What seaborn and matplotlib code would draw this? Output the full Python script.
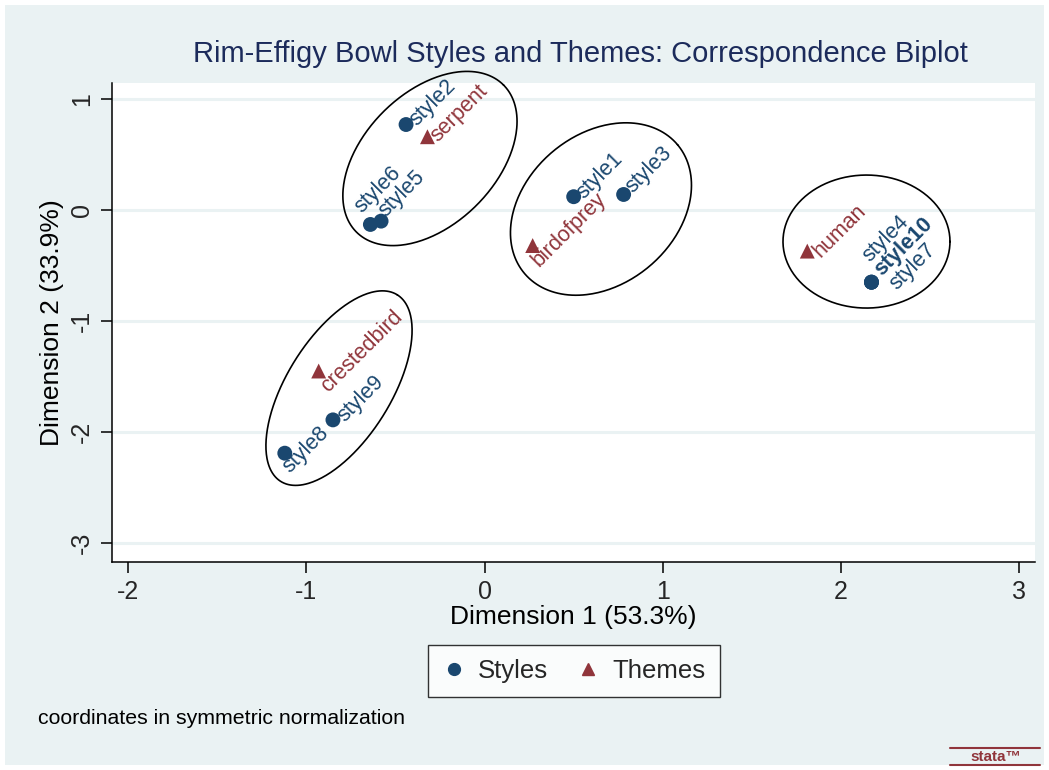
import numpy as np
import pandas as pd
import seaborn as sns
import matplotlib.pyplot as plt
from matplotlib.lines import Line2D
from matplotlib.patches import Rectangle

# correspondence coordinates
labels = ["style1", "style2", "style3", "style4", "style5", "style6", "style7",
          "style8", "style9", "style10",
          "birdofprey", "crestedbird", "human", "serpent"]
dim1 = [0.50, -0.44, 0.78, 2.17, -0.58, -0.64, 2.17, -1.12, -0.85, 2.17,
        0.27, -0.93, 1.81, -0.32]
dim2 = [0.12, 0.77, 0.14, -0.65, -0.10, -0.13, -0.65, -2.19, -1.89, -0.65,
        -0.32, -1.45, -0.37, 0.66]
kind = ["Styles"] * 10 + ["Themes"] * 4

x_ticks = [-2, -1, 0, 1, 2, 3]
y_ticks = [1, 0, -1, -2, -3]

# group ellipses: centre (data), semi-axes (px), angle (deg)
ellipses = [(-0.306, 0.464, 104, 66, 45),
            (0.653, 0.009, 100, 75, 40),
            (2.142, -0.284, 83.5, 66.5, 0),
            (-0.816, -1.604, 110, 52, 58)]

# label offsets in px (right, down) from the marker to the text start
label_off = {"style1": (10, 3), "style2": (11, 2), "style3": (9, -1),
             "style4": (-2, -20), "style5": (5, -4), "style6": (-8, -11),
             "style7": (25, 8), "style8": (5, 20), "style9": (12, 3),
             "style10": (10, -6), "birdofprey": (6, 22), "crestedbird": (9, 22),
             "human": (13, 7), "serpent": (10, 6)}

navy = "#1a476f"
maroon = "#90353b"
bg = "#eaf2f3"

df = pd.DataFrame({"label": labels, "dim1": dim1, "dim2": dim2, "kind": kind})

sns.set_theme(style="white")
plt.rcParams["font.family"] = ["Liberation Sans", "DejaVu Sans"]

W, H = 1049, 770
fig = plt.figure(figsize=(W / 100, H / 100), dpi=100)
fig.patch.set_facecolor("white")
fig.add_artist(Rectangle((5 / W, 5 / H), 1 - 10 / W, 1 - 10 / H,
                         transform=fig.transFigure, facecolor=bg,
                         edgecolor="none", zorder=0))

ax = fig.add_axes([112 / W, 1 - 562 / H, (1035 - 112) / W, (562 - 83) / H])
ax.set_facecolor("white")
ax.set_xlim(-2.089, 3.087)
ax.set_ylim(-3.17, 1.144)

sns.scatterplot(data=df, x="dim1", y="dim2", hue="kind", style="kind",
                palette={"Styles": navy, "Themes": maroon},
                markers={"Styles": "o", "Themes": "^"},
                s=115, edgecolor="none", legend=False, ax=ax, zorder=3)

for _, r in df.iterrows():
    dx, dy = label_off[r["label"]]
    col = navy if r["kind"] == "Styles" else maroon
    ax.annotate(r["label"], (r["dim1"], r["dim2"]),
                xytext=(dx * 0.72, -dy * 0.72), textcoords="offset points",
                rotation=45, rotation_mode="anchor", ha="left", va="baseline",
                fontsize=15.5, color=col,
                fontweight="bold" if r["label"] == "style10" else "normal",
                annotation_clip=False, zorder=4)

# ellipses drawn in pixel space, converted to data units
o = ax.transData.transform((0, 0))
sx = ax.transData.transform((1, 0))[0] - o[0]
sy = ax.transData.transform((0, 1))[1] - o[1]
t = np.linspace(0, 2 * np.pi, 300)
for cx, cy, a, b, ang in ellipses:
    th = np.radians(ang)
    ex = cx + (a * np.cos(t) * np.cos(th) - b * np.sin(t) * np.sin(th)) / sx
    ey = cy + (a * np.cos(t) * np.sin(th) + b * np.sin(t) * np.cos(th)) / sy
    ax.plot(ex, ey, color="black", lw=1.2, zorder=2, clip_on=False)

ax.set_xticks(x_ticks)
ax.set_yticks(y_ticks)
ax.set_xticklabels([str(v) for v in x_ticks], fontsize=18)
ax.set_yticklabels([str(v) for v in y_ticks], fontsize=18, rotation=90, va="center")
ax.tick_params(axis="both", direction="out", length=8, width=1.1, color="black",
               bottom=True, left=True, pad=5)
ax.yaxis.grid(True, color=bg, lw=2.2)
ax.set_axisbelow(True)
for side in ["top", "right"]:
    ax.spines[side].set_visible(False)
for side in ["left", "bottom"]:
    ax.spines[side].set_color("black")
    ax.spines[side].set_linewidth(1.1)

ax.set_xlabel("Dimension 1 (53.3%)", fontsize=19, color="black", labelpad=1)
ax.set_ylabel("Dimension 2 (33.9%)", fontsize=19, color="black", labelpad=4)

fig.text(0.553, 1 - 54 / H, "Rim-Effigy Bowl Styles and Themes: Correspondence Biplot",
         ha="center", va="center", fontsize=21, color="#1c2b5b")

handles = [Line2D([], [], marker="o", ls="", color=navy, markersize=8.5),
           Line2D([], [], marker="^", ls="", color=maroon, markersize=8.5)]
leg = fig.legend(handles, ["Styles", "Themes"], loc="center",
                 bbox_to_anchor=(574 / W, 1 - 671 / H), ncol=2, fontsize=18.5,
                 frameon=True, fancybox=False, handletextpad=0.5,
                 columnspacing=1.1, handlelength=0.9, borderpad=0.55,
                 borderaxespad=0.3)
leg.get_frame().set_edgecolor("black")
leg.get_frame().set_facecolor("white")
leg.get_frame().set_linewidth(1.0)

fig.text(38 / W, 1 - 719 / H, "coordinates in symmetric normalization",
         ha="left", va="center", fontsize=15.3, color="black")

# small stata mark at the corner
fig.text(996 / W, 1 - 757 / H, "stata\u2122", ha="center", va="center",
         fontsize=11, color=maroon, fontweight="bold")
fig.add_artist(Line2D([950 / W, 1040 / W], [1 - 748 / H, 1 - 748 / H],
                      transform=fig.transFigure, color=maroon, lw=1.5))
fig.add_artist(Line2D([950 / W, 1040 / W], [1 - 765 / H, 1 - 765 / H],
                      transform=fig.transFigure, color=maroon, lw=1.5))

fig.savefig("out.png", dpi=100)
